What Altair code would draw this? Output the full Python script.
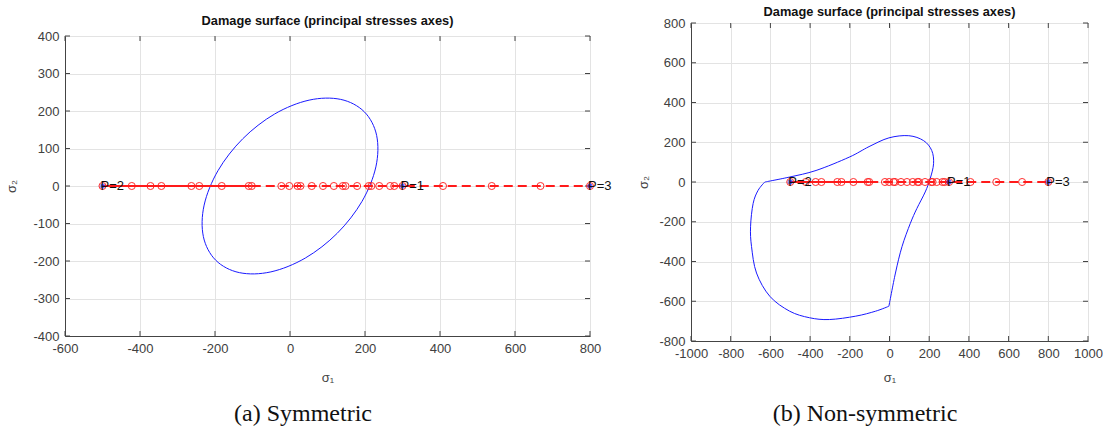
import altair as alt
import pandas as pd

# ---- loading path: sigma_1 positions of the stress states (sigma_2 = 0) ----
path_s1 = [-500, -422, -372, -343, -263, -242, -182, -110, -102, -23, -2, 20, 28,
           58, 88, 117, 141, 148, 179, 210, 217, 238, 267, 278, 300, 408, 538, 668, 800]
path_s2 = [0] * len(path_s1)

# solid part of the path, the rest is dashed
solid_s1 = [-500, -102]
dashed_s1 = [-102, 800]

# labelled states
p_s1 = [300, -500, 800]
p_labels = ["P=1", "P=2", "P=3"]

# ---- symmetric damage surface (closed curve) ----
sym_s1 = [198, 135, 51, -41, -126, -192, -229, -231, -198, -135, -51, 41, 126, 192, 229, 231]
sym_s2 = [198, 231, 229, 192, 126, 41, -51, -135, -198, -231, -229, -192, -126, -41, 51, 135]

# ---- non-symmetric damage surface: two smooth arcs meeting at corners ----
arc1_s1 = [-628, -503, -370, -203, -103, -3, 97, 172, 213, 222, 205, 180, 138, 105, 63, 30, -3]
arc1_s2 = [0, 25, 58, 125, 178, 222, 233, 208, 158, 92, 17, -50, -133, -208, -325, -458, -625]
arc2_s1 = [-3, -70, -170, -303, -403, -503, -603, -670, -695, -700, -687, -662, -628]
arc2_s2 = [-625, -650, -675, -692, -683, -650, -575, -458, -325, -225, -108, -42, 0]

# ---- axes ----
left_xticks = [-600, -400, -200, 0, 200, 400, 600, 800]
left_yticks = [-400, -300, -200, -100, 0, 100, 200, 300, 400]
right_xticks = [-1000, -800, -600, -400, -200, 0, 200, 400, 600, 800, 1000]
right_yticks = [-800, -600, -400, -200, 0, 200, 400, 600, 800]

TITLE = "Damage surface (principal stresses axes)"
SANS = "Liberation Sans"
SERIF = "Liberation Serif, DejaVu Serif, serif"
RED = "#ff1a1a"
BLUE = "#1a1aff"
ASTERISK = "M-1,0L1,0M0,-1L0,1M-0.7,-0.7L0.7,0.7M-0.7,0.7L0.7,-0.7"
LABEL = "toString(datum.value)"


def title_text(w, y):
    return alt.Chart(pd.DataFrame({"t": [TITLE]})).mark_text(
        font=SANS, fontSize=12.8, fontWeight="bold", color="#111", align="center", baseline="middle"
    ).encode(x=alt.value(w / 2), y=alt.value(y), text="t:N")


def panel(xdom, xticks, ydom, yticks, w, h, curve_layer, caption, cap_x, cap_y,
          xtitle_pad, ytitle_pad, title_y=None):
    common = dict(labelExpr=LABEL, labelOverlap=False, labelFlush=False)
    x_enc = alt.X("s1:Q", scale=alt.Scale(domain=xdom, nice=False, zero=False),
                  axis=alt.Axis(values=xticks, title="σ₁", titlePadding=xtitle_pad, **common))
    y_enc = alt.Y("s2:Q", scale=alt.Scale(domain=ydom, nice=False, zero=False),
                  axis=alt.Axis(values=yticks, title="σ₂", titlePadding=ytitle_pad, **common))

    path_df = pd.DataFrame({"s1": path_s1, "s2": path_s2})
    solid_df = pd.DataFrame({"s1": solid_s1, "s2": [0, 0]})
    dashed_df = pd.DataFrame({"s1": dashed_s1, "s2": [0, 0]})
    p_df = pd.DataFrame({"s1": p_s1, "s2": [0, 0, 0], "label": p_labels})
    xt_df = pd.DataFrame({"s1": xticks})
    yt_df = pd.DataFrame({"s2": yticks})

    curve = curve_layer(x_enc, y_enc)

    solid = alt.Chart(solid_df).mark_line(color=RED, strokeWidth=1.8).encode(x=x_enc, y=y_enc)
    dashed = alt.Chart(dashed_df).mark_line(color=RED, strokeWidth=1.8, strokeDash=[9, 5]).encode(
        x=x_enc, y=y_enc)
    circles = alt.Chart(path_df).mark_point(shape="circle", size=50, filled=False, color=RED,
                                             strokeWidth=1, opacity=0.9).encode(x=x_enc, y=y_enc)
    stars = alt.Chart(p_df).mark_point(shape=ASTERISK, size=30, color=BLUE, strokeWidth=1.2).encode(
        x=x_enc, y=y_enc)
    labels = alt.Chart(p_df).mark_text(align="left", baseline="middle", dx=-2, font=SANS,
                                       fontSize=13, color="#111").encode(x=x_enc, y=y_enc, text="label:N")

    # inward tick marks on all four sides
    tick_b = alt.Chart(xt_df).mark_rule(color="#444").encode(x=x_enc, y=alt.value(h), y2=alt.value(h - 5))
    tick_t = alt.Chart(xt_df).mark_rule(color="#444").encode(x=x_enc, y=alt.value(0), y2=alt.value(5))
    tick_l = alt.Chart(yt_df).mark_rule(color="#444").encode(y=y_enc, x=alt.value(0), x2=alt.value(5))
    tick_r = alt.Chart(yt_df).mark_rule(color="#444").encode(y=y_enc, x=alt.value(w), x2=alt.value(w - 5))

    cap = alt.Chart(pd.DataFrame({"t": [caption]})).mark_text(
        font=SERIF, fontSize=24, color="#111", align="center", baseline="alphabetic"
    ).encode(x=alt.value(cap_x), y=alt.value(cap_y), text="t:N")

    layers = [tick_b, tick_t, tick_l, tick_r, curve, solid, dashed, circles, stars, labels, cap]
    if title_y is not None:
        layers.append(title_text(w, title_y))
    return alt.layer(*layers).properties(width=w, height=h)


def sym_curve(x_enc, y_enc):
    df = pd.DataFrame({"s1": sym_s1, "s2": sym_s2, "i": range(len(sym_s1))})
    return alt.Chart(df).mark_line(color=BLUE, strokeWidth=1, interpolate="cardinal-closed").encode(
        x=x_enc, y=y_enc, order="i:Q")


def nonsym_curve(x_enc, y_enc):
    df = pd.concat([
        pd.DataFrame({"s1": arc1_s1, "s2": arc1_s2, "arc": "a", "i": range(len(arc1_s1))}),
        pd.DataFrame({"s1": arc2_s1, "s2": arc2_s2, "arc": "b", "i": range(len(arc2_s1))}),
    ])
    return alt.Chart(df).mark_line(color=BLUE, strokeWidth=1, interpolate="cardinal").encode(
        x=x_enc, y=y_enc, detail="arc:N", order="i:Q")


left_plot = panel([-600, 800], left_xticks, [-400, 400], left_yticks, 525, 300,
                  sym_curve, "(a) Symmetric", 238, 385, 16, 14)
# title strip above the left plot; its height sets how far that plot sits lower
left_head = title_text(525, -2).properties(
    width=525, height=5, view=alt.ViewBackground(stroke="transparent"))
left = alt.vconcat(left_head, left_plot, spacing=0)

right = panel([-1000, 1000], right_xticks, [-800, 800], right_yticks, 397, 318,
              nonsym_curve, "(b) Non-symmetric", 174, 398, 11, 8, title_y=-11)

chart = alt.hconcat(left, right, spacing=25).properties(
    padding={"left": 5, "top": 5, "right": 0, "bottom": 0}
).configure_view(stroke="#666", strokeWidth=1).configure_axis(
    grid=True, gridColor="#e3e3e3", gridWidth=1,
    domainColor="#444", domainWidth=1, ticks=False,
    labelFont=SANS, labelFontSize=13, labelColor="#404040", labelPadding=6,
    titleFont=SANS, titleFontSize=13, titleFontWeight="normal", titleColor="#444",
).configure_axisY(titleAngle=-90)

chart.save("out.html", embed_options={"renderer": "svg", "actions": False})
